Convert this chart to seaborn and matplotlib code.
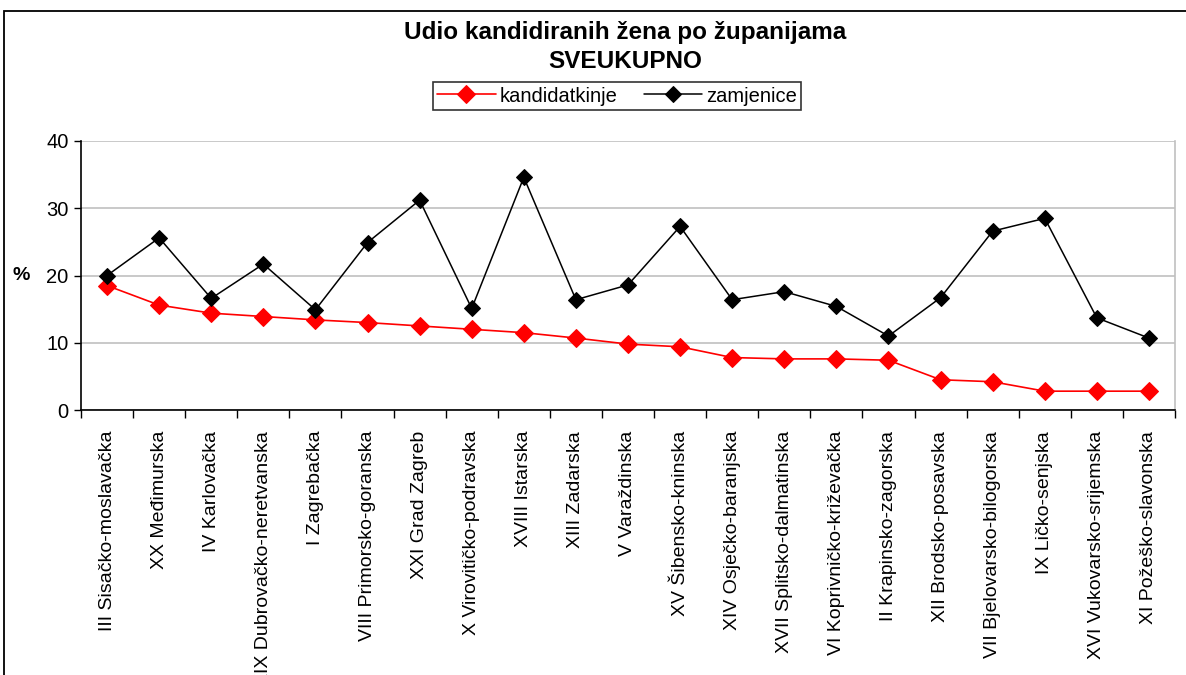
import numpy as np
import pandas as pd
import matplotlib
matplotlib.use("Agg")
import matplotlib.pyplot as plt
import seaborn as sns
from matplotlib.patches import Rectangle

# Data
zupanije = [
    "III Sisačko-moslavačka", "XX Međimurska", "IV Karlovačka",
    "XIX Dubrovačko-neretvanska", "I Zagrebačka", "VIII Primorsko-goranska",
    "XXI Grad Zagreb", "X Virovitičko-podravska", "XVIII Istarska",
    "XIII Zadarska", "V Varaždinska", "XV Šibensko-kninska",
    "XIV Osječko-baranjska", "XVII Splitsko-dalmatinska",
    "VI Koprivničko-križevačka", "II Krapinsko-zagorska",
    "XII Brodsko-posavska", "VII Bjelovarsko-bilogorska",
    "IX Ličko-senjska", "XVI Vukovarsko-srijemska", "XI Požeško-slavonska",
]
kandidatkinje = [18.5, 15.6, 14.4, 13.9, 13.4, 13.0, 12.5, 12.0, 11.5, 10.7,
                 9.8, 9.4, 7.8, 7.6, 7.6, 7.4, 4.5, 4.2, 2.8, 2.8, 2.8]
zamjenice = [20.0, 25.6, 16.6, 21.7, 14.9, 24.9, 31.2, 15.1, 34.6, 16.4,
             18.6, 27.3, 16.4, 17.6, 15.4, 11.0, 16.7, 26.6, 28.5, 13.7, 10.7]

sns.set_style("white")
plt.rcParams["font.family"] = ["Liberation Sans", "DejaVu Sans"]
plt.rcParams["text.color"] = "black"
plt.rcParams["axes.labelcolor"] = "black"
plt.rcParams["xtick.color"] = "black"
plt.rcParams["ytick.color"] = "black"

idx = np.arange(len(zupanije))
df = pd.DataFrame({"idx": idx, "kandidatkinje": kandidatkinje, "zamjenice": zamjenice})

W, H = 1186, 675
fig = plt.figure(figsize=(W / 100, H / 100), dpi=100)
ax = fig.add_axes([81 / W, (H - 410) / H, (1175 - 81) / W, (410 - 141) / H])

# outer chart frame (cut at right and bottom like the original)
fig.patches.append(Rectangle((4 / W, -0.1), 1.2, (H - 11) / H + 0.1,
                             transform=fig.transFigure, fill=False,
                             edgecolor="black", linewidth=1.3, zorder=0))

sns.lineplot(data=df, x="idx", y="kandidatkinje", ax=ax, color="#ff0000",
             marker="D", markersize=9.5, markeredgecolor="#ff0000",
             linewidth=1.2, label="kandidatkinje", zorder=3)
sns.lineplot(data=df, x="idx", y="zamjenice", ax=ax, color="black",
             marker="D", markersize=8, markeredgecolor="black",
             linewidth=1.1, label="zamjenice", zorder=4)

ax.set_xlim(-0.5, len(zupanije) - 0.5)
ax.set_ylim(0, 40)
ax.set_yticks([0, 10, 20, 30, 40])
ax.yaxis.grid(True, color="#c0c0c0", linewidth=1.2)
ax.set_axisbelow(True)

ax.set_xticks(idx)
ax.set_xticklabels(zupanije, rotation=90, fontsize=14)
ax.set_xticks(np.arange(-0.5, len(zupanije)), minor=True)
ax.tick_params(axis="x", which="major", length=0, pad=15)
ax.tick_params(axis="x", which="minor", length=6, width=1, color="black",
               direction="out", bottom=True)
ax.tick_params(axis="y", length=5, width=1, direction="out", left=True,
               labelsize=14.5, colors="black", pad=4)

for s in ["left", "bottom"]:
    ax.spines[s].set_color("black")
    ax.spines[s].set_linewidth(1.2)
ax.spines["right"].set_color("#c0c0c0")
ax.spines["right"].set_linewidth(1.2)
ax.spines["top"].set_visible(False)

ax.set_xlabel("")
ax.set_ylabel("%", rotation=0, fontsize=14, fontweight="bold", labelpad=18,
              va="center")

fig.text(625 / W, (H - 33) / H, "Udio kandidiranih žena po županijama",
         ha="center", va="center", fontsize=17.5, fontweight="bold")
fig.text(625 / W, (H - 62) / H, "SVEUKUPNO",
         ha="center", va="center", fontsize=17.5, fontweight="bold")

leg = ax.legend(loc="center", bbox_to_anchor=(617 / W, (H - 96) / H),
                bbox_transform=fig.transFigure, ncol=2, fontsize=14.5,
                frameon=True, fancybox=False, shadow=False,
                borderpad=0.2, handlelength=2.9, columnspacing=1.3,
                handletextpad=0.2, borderaxespad=0)
leg.get_frame().set_edgecolor("black")
leg.get_frame().set_linewidth(1.2)

fig.savefig("out.png", dpi=100)
